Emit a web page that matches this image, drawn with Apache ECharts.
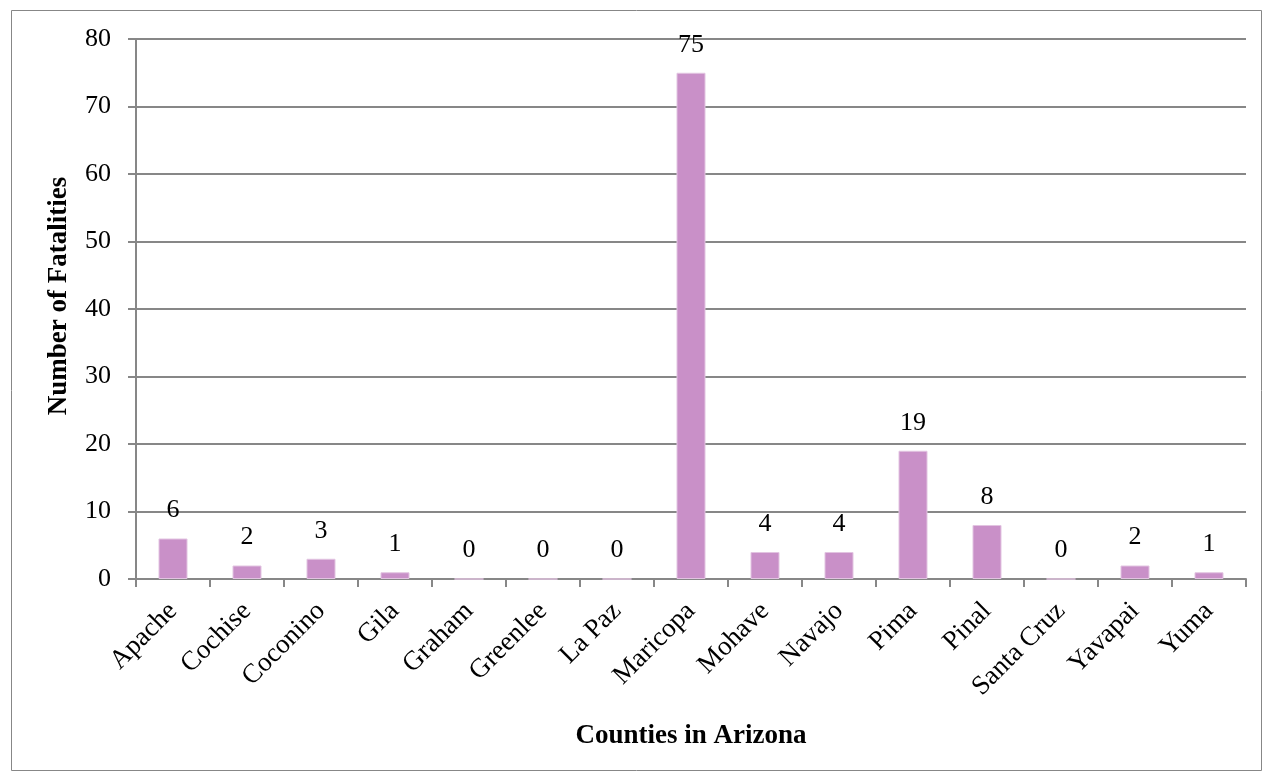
<!DOCTYPE html>
<html>
<head>
<meta charset="utf-8">
<script src="https://cdn.jsdelivr.net/npm/echarts@6/dist/echarts.min.js"></script>
<style>
  html, body { margin: 0; padding: 0; background: #fff; }
  #chart { width: 1264px; height: 780px; }
</style>
</head>
<body>
<div id="chart"></div>
<script>
// counties and fatalities
var counties = ['Apache', 'Cochise', 'Coconino', 'Gila', 'Graham', 'Greenlee', 'La Paz',
  'Maricopa', 'Mohave', 'Navajo', 'Pima', 'Pinal', 'Santa Cruz', 'Yavapai', 'Yuma']
var fatalities = [6, 2, 3, 1, 0, 0, 0, 75, 4, 4, 19, 8, 0, 2, 1]
var yTicks = [0, 10, 20, 30, 40, 50, 60, 70, 80]

var font = '"Liberation Serif", "DejaVu Serif", serif'
var grey = '#878787'

var chart = echarts.init(document.getElementById('chart'))
var option = {
  animation: false,
  textStyle: { fontFamily: font, color: '#000' },
  // outer frame
  graphic: [{
    type: 'rect',
    shape: { x: 11.5, y: 10.5, width: 1250, height: 760 },
    style: { fill: 'none', stroke: grey, lineWidth: 1 }
  }],
  grid: { left: 136, right: 18, top: 39, bottom: 201 },
  xAxis: {
    type: 'category',
    data: counties,
    name: 'Counties in Arizona',
    nameLocation: 'middle',
    nameGap: 144,
    nameTextStyle: { fontFamily: font, fontSize: 27, fontWeight: 'bold', color: '#000' },
    axisLine: { lineStyle: { color: grey, width: 2 } },
    axisTick: { show: true, length: 8, lineStyle: { color: grey, width: 2 } },
    axisLabel: { rotate: 45, fontFamily: font, fontSize: 27, color: '#000', margin: 28, interval: 0 }
  },
  yAxis: {
    type: 'value',
    min: yTicks[0],
    max: yTicks[yTicks.length - 1],
    interval: 10,
    name: 'Number of Fatalities',
    nameLocation: 'middle',
    nameGap: 63,
    nameTextStyle: { fontFamily: font, fontSize: 27, fontWeight: 'bold', color: '#000', padding: [0, 0, 0, 26] },
    axisLine: { show: true, lineStyle: { color: grey, width: 2 } },
    axisTick: { show: true, length: 8, lineStyle: { color: grey, width: 2 } },
    axisLabel: { fontFamily: font, fontSize: 26, color: '#000', margin: 25 },
    splitLine: { lineStyle: { color: grey, width: 2 } }
  },
  series: [{
    type: 'bar',
    data: fatalities,
    barWidth: 29,
    itemStyle: { color: '#C990C8', borderColor: '#E2C4E1', borderWidth: 1 },
    label: {
      show: true,
      position: 'top',
      distance: 15,
      fontFamily: font,
      fontSize: 26,
      color: '#000'
    }
  }]
}
chart.setOption(option)
</script>
</body>
</html>
